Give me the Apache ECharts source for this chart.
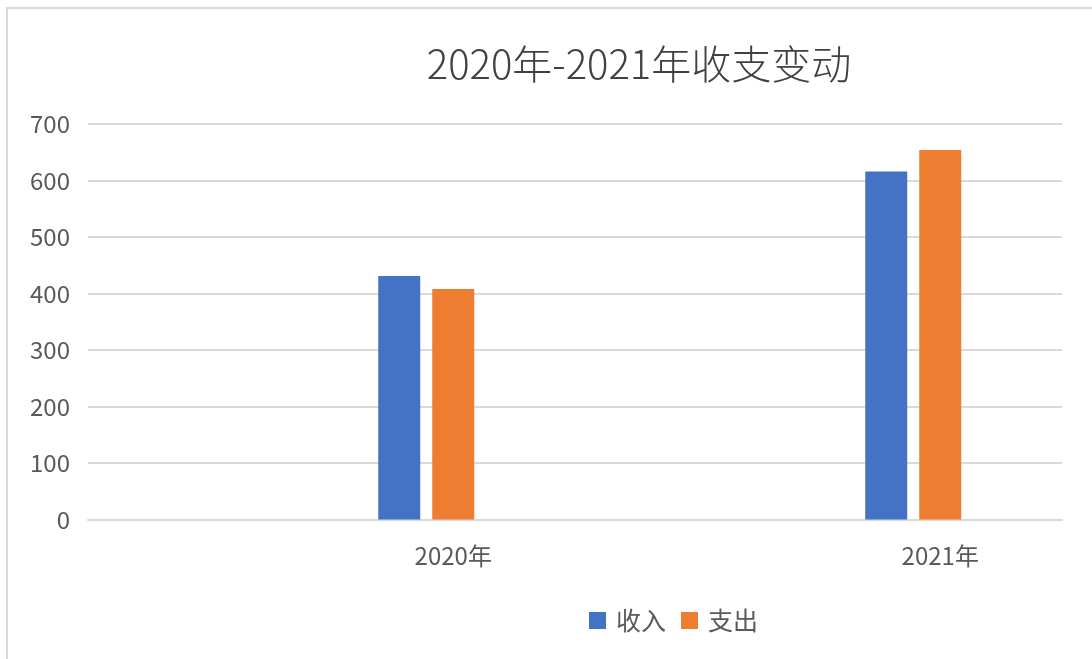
<!DOCTYPE html>
<html>
<head>
<meta charset="utf-8">
<script src="https://cdn.jsdelivr.net/npm/echarts@6/dist/echarts.min.js"></script>
<style>
  html, body { margin: 0; padding: 0; background: #fff; }
  #chart { width: 1092px; height: 659px; }
</style>
</head>
<body>
<div id="chart"></div>
<script>
// 数据
const years = ['2020年', '2021年'];
const income = [431, 616];   // 收入
const expense = [408, 654];  // 支出
const yTicks = [0, 100, 200, 300, 400, 500, 600, 700];

// 每个年份前面留一个空槽位，让柱子和标签落在原图的位置上
const axisCats = years.flatMap(y => ['', y]);
const pad = arr => arr.flatMap(v => [null, v]);

const font = 'Noto Sans CJK SC';

const chart = echarts.init(document.getElementById('chart'));

const option = {
  backgroundColor: '#fff',
  animation: false,
  title: {
    text: '2020年-2021年收支变动',
    left: 634,
    top: 39,
    textAlign: 'center',
    textStyle: {
      fontFamily: font,
      fontSize: 40,
      fontWeight: 300,
      color: '#404040'
    }
  },
  legend: {
    data: ['收入', '支出'],
    left: 584,
    top: 603,
    icon: 'rect',
    itemWidth: 17,
    itemHeight: 17,
    itemGap: 15,
    textStyle: {
      fontFamily: font,
      fontSize: 25,
      color: '#595959',
      padding: [0, 0, 0, 5]
    }
  },
  graphic: [
    {
      type: 'rect',
      silent: true,
      shape: { x: 7, y: 8, width: 2000, height: 2000 },
      style: { fill: 'none', stroke: '#d9d9d9', lineWidth: 2 }
    }
  ],
  grid: {
    left: 88,
    right: 30,
    top: 124,
    bottom: 139.5
  },
  xAxis: {
    type: 'category',
    data: axisCats,
    axisTick: { show: false },
    axisLine: { lineStyle: { color: '#d9d9d9', width: 2 } },
    axisLabel: {
      fontFamily: font,
      fontSize: 24,
      color: '#595959',
      margin: 24,
      interval: 0
    }
  },
  yAxis: {
    type: 'value',
    min: yTicks[0],
    max: yTicks[yTicks.length - 1],
    interval: 100,
    axisLine: { show: false },
    axisTick: { show: false },
    axisLabel: {
      fontFamily: font,
      fontSize: 24,
      color: '#595959',
      margin: 18
    },
    splitLine: { lineStyle: { color: '#d9d9d9', width: 2 } }
  },
  series: [
    {
      name: '收入',
      type: 'bar',
      data: pad(income),
      barWidth: 42,
      barGap: '28.6%',
      itemStyle: { color: '#4472C4' }
    },
    {
      name: '支出',
      type: 'bar',
      data: pad(expense),
      barWidth: 42,
      barGap: '28.6%',
      itemStyle: { color: '#ED7D31' }
    },
    {
      // 占位的隐形柱，把一组柱子往左推
      name: 'spacer',
      type: 'bar',
      data: axisCats.map(() => null),
      barWidth: 42,
      barGap: '28.6%',
      itemStyle: { color: 'rgba(0,0,0,0)' },
      silent: true
    }
  ]
};

chart.setOption(option);
</script>
</body>
</html>
